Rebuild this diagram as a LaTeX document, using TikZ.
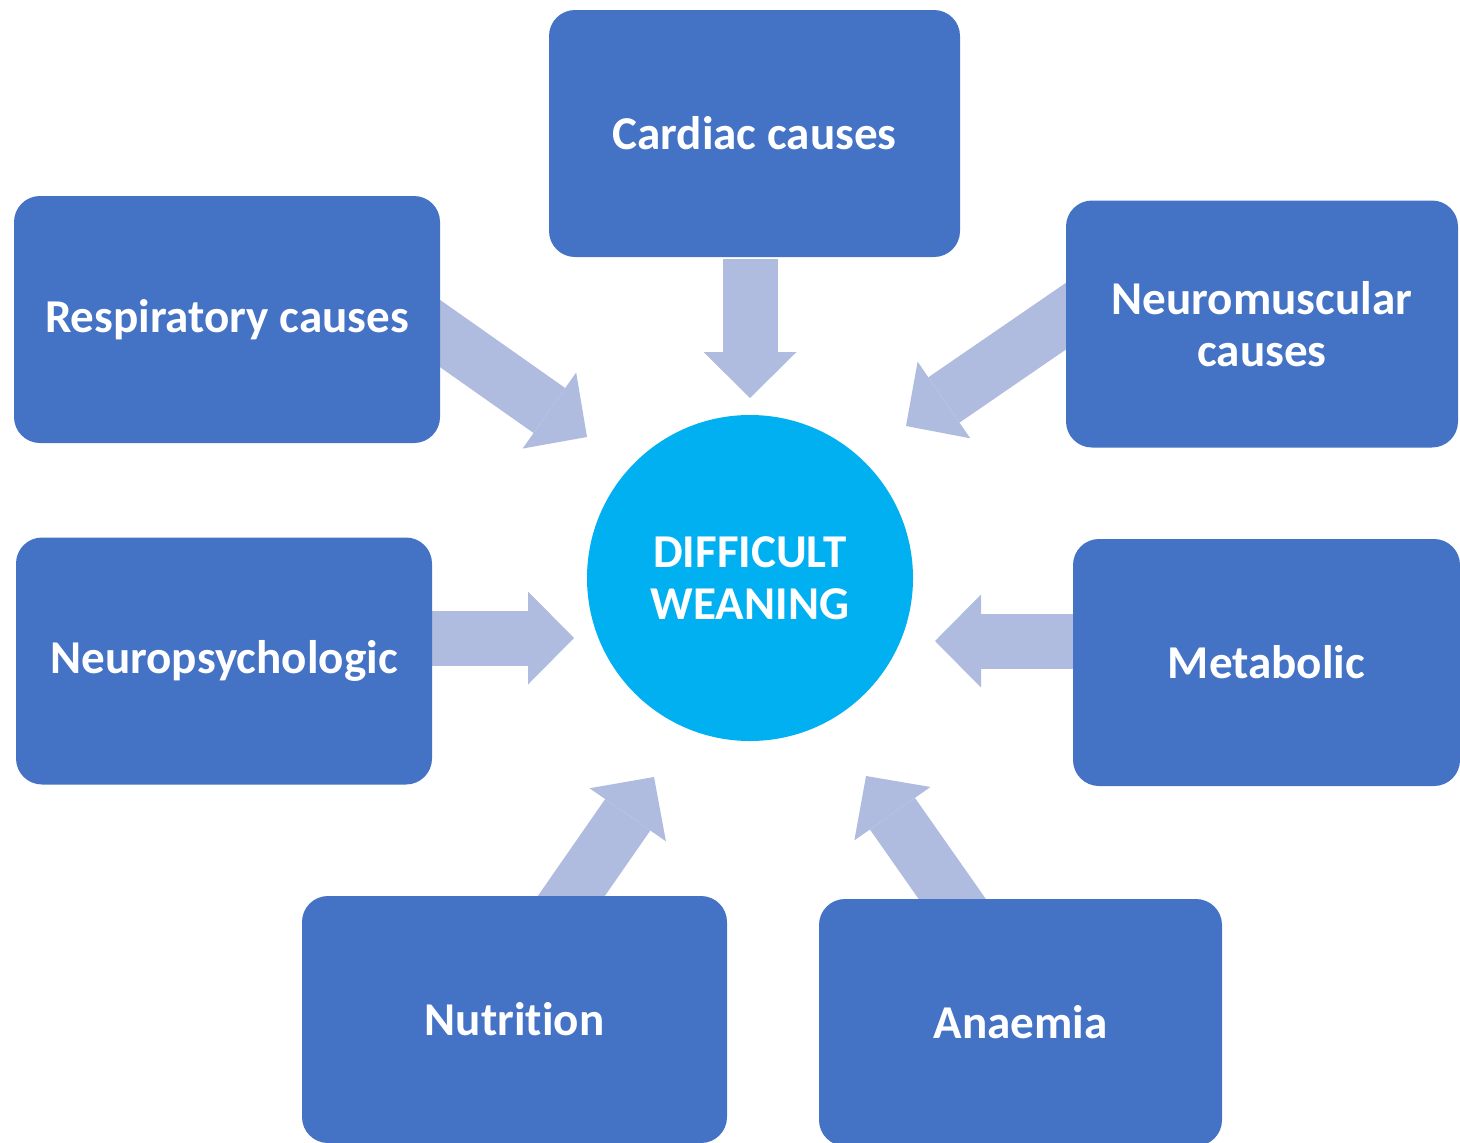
\documentclass[tikz,border=0pt]{standalone}
\usepackage{fontspec}
\setmainfont{Carlito}[Ligatures=NoCommon]
\usetikzlibrary{arrows.meta}

\definecolor{boxblue}{HTML}{4472C4}
\definecolor{hubblue}{HTML}{00B0F0}
\definecolor{feedgrey}{HTML}{B0BCDF}

\begin{document}
\begin{tikzpicture}[x=0.1mm, y=-0.1mm,
    cause/.style={fill=boxblue, rounded corners=2.6mm, text=white,
        font=\bfseries\fontsize{13.4}{14.8}\selectfont, align=center,
        minimum height=24.7mm, inner sep=0pt},
    feed/.style={draw=feedgrey, line width=5.5mm,
        -{Triangle[length=4.6mm, width=9.3mm, line width=0pt]}}]
    \useasboundingbox (0,0) rectangle (1460,1142);

    % Ends of the block arrows (their tails hide behind the boxes)
    \coordinate (cardiac-from) at (750,259);
    \coordinate (cardiac-to) at (750,398);
    \coordinate (resp-from) at (418,318);
    \coordinate (resp-to) at (587,437);
    \coordinate (neuromusc-from) at (1088,301);
    \coordinate (neuromusc-to) at (906,426);
    \coordinate (neuropsych-from) at (425,638);
    \coordinate (neuropsych-to) at (574,638);
    \coordinate (metabolic-from) at (1080,641);
    \coordinate (metabolic-to) at (935,641);
    \coordinate (nutrition-from) at (556,918);
    \coordinate (nutrition-to) at (654,777);
    \coordinate (anaemia-from) at (967,920);
    \coordinate (anaemia-to) at (866,776);

    \foreach \c in {cardiac, resp, neuromusc, neuropsych, metabolic, nutrition, anaemia}
        \draw[feed] (\c-from) -- (\c-to);

    % Causes
    \node[cause, minimum width=41.1mm] (cardiac) at (754.5,133.5) {Cardiac causes};
    \node[cause, minimum width=42.6mm] (resp) at (227,319.5) {Respiratory causes};
    \node[cause, minimum width=39.2mm] (neuromusc) at (1262,324) {Neuromuscular\\causes};
    \node[cause, minimum width=41.6mm] (neuropsych) at (224,661) {Neuropsychologic};
    \node[cause, minimum width=38.7mm] (metabolic) at (1266.5,662.5) {Metabolic};
    \node[cause, minimum width=42.5mm] (nutrition) at (514.5,1019.5) {Nutrition};
    \node[cause, minimum width=40.3mm] (anaemia) at (1020.5,1022.5) {Anaemia};

    % Centre
    \node[circle, fill=hubblue, minimum size=32.6mm, inner sep=0pt, text=white,
        font=\bfseries\fontsize{13.4}{14.8}\selectfont, align=center]
        (weaning) at (750,578) {DIFFICULT\\WEANING};
\end{tikzpicture}
\end{document}
